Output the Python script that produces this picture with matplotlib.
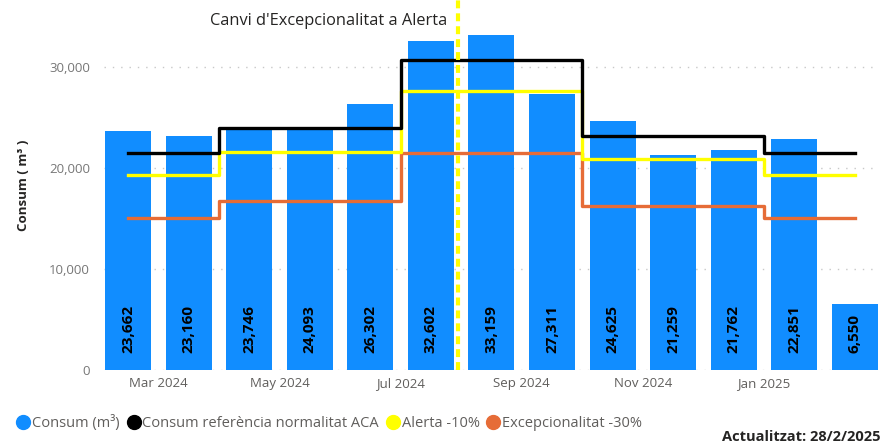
import matplotlib.pyplot as plt
from matplotlib.lines import Line2D

plt.rcParams['font.family'] = ['Open Sans', 'DejaVu Sans']

# Data
months = ["Feb 2024", "Mar 2024", "Apr 2024", "May 2024", "Jun 2024", "Jul 2024",
          "Aug 2024", "Sep 2024", "Oct 2024", "Nov 2024", "Dec 2024", "Jan 2025", "Feb 2025"]
consum = [23662, 23160, 23746, 24093, 26302, 32602, 33159, 27311, 24625, 21259, 21762, 22851, 6550]
referencia = [21480, 21480, 23960, 23960, 23960, 30690, 30690, 30690, 23170, 23170, 23170, 21480, 21480]
alerta = [19330, 19330, 21560, 21560, 21560, 27620, 27620, 27620, 20850, 20850, 20850, 19330, 19330]
excepcionalitat = [15040, 15040, 16770, 16770, 16770, 21480, 21480, 21480, 16220, 16220, 16220, 15040, 15040]
tick_labels = ["Mar 2024", "May 2024", "Jul 2024", "Sep 2024", "Nov 2024", "Jan 2025"]
tick_pos = [0.5, 2.5, 4.5, 6.5, 8.5, 10.5]
canvi_pos = 5.45

blue = "#118DFF"
yellow = "#FFFF00"
orange = "#E66C37"
grey = "#605E5C"

fig = plt.figure(figsize=(8.8, 4.46), dpi=100)
ax = fig.add_axes([0.118, 0.1704, 0.881, 0.8296])

x = list(range(len(months)))
ax.bar(x, consum, width=0.76, color=blue, zorder=2)

# data labels inside the bars
for xi, v in zip(x, consum):
    ax.text(xi, 1700, f"{v:,}", rotation=90, ha="center", va="bottom",
            fontsize=11, fontweight="bold", color="black", zorder=5)

# reference lines (stepped)
ax.plot(x, excepcionalitat, drawstyle="steps-mid", color=orange, lw=2.4, zorder=3)
ax.plot(x, alerta, drawstyle="steps-mid", color=yellow, lw=2.4, zorder=3)
ax.plot(x, referencia, drawstyle="steps-mid", color="black", lw=2.4, zorder=4)

# change marker
ax.axvline(canvi_pos, color=yellow, lw=3, dashes=(1.9, 1.2), zorder=6)
ax.annotate("Canvi d'Excepcionalitat a Alerta", xy=(canvi_pos, 1), xycoords=("data", "axes fraction"),
            xytext=(-8, -15), textcoords="offset points", ha="right", va="center",
            fontsize=11.8, color="#252423")

ax.set_xlim(-0.4, 12.4)
ax.set_ylim(0, 36630)
ax.set_yticks([0, 10000, 20000, 30000])
ax.set_yticklabels(["0", "10,000", "20,000", "30,000"])
ax.set_xticks(tick_pos)
ax.set_xticklabels(tick_labels)
ax.tick_params(axis="y", length=0, labelsize=9.5, labelcolor="#777777", pad=10)
ax.tick_params(axis="x", length=0, labelsize=9.5, labelcolor=grey, pad=5)
ax.grid(axis="y", color="#C8C8C8", linestyle=(0, (1, 5)), lw=1, zorder=0)
for s in ax.spines.values():
    s.set_visible(False)

ax.set_ylabel("Consum ( m³ )", fontsize=9.5, fontweight="bold", color="#252423", labelpad=14)

# legend
handles = [
    Line2D([], [], marker="o", ls="", color=blue, markersize=10),
    Line2D([], [], marker="o", ls="", color="black", markersize=10),
    Line2D([], [], marker="o", ls="", color=yellow, markersize=10),
    Line2D([], [], marker="o", ls="", color=orange, markersize=10),
]
labels = ["Consum (m³)", "Consum referència normalitat ACA", "Alerta -10%", "Excepcionalitat -30%"]
fig.legend(handles, labels, loc="lower left", bbox_to_anchor=(0.0, 0.0), ncol=4, frameon=False,
           fontsize=10.5, labelcolor=grey, handletextpad=0.0, columnspacing=0.35,
           handlelength=1.2, borderaxespad=0.6)

fig.text(722 / 880, 0.005, "Actualitzat: 28/2/2025", fontsize=10.5, fontweight="bold",
         color="#252423", ha="left", va="bottom")

fig.savefig("out.png", dpi=100)
